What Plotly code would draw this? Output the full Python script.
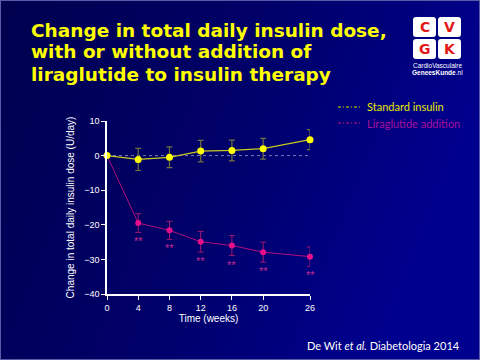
import base64
import plotly.graph_objects as go

weeks = [0, 4, 8, 12, 16, 20, 26]
tick_labels = ["0", "4", "8", "12", "16", "20", "26"]
standard = [0.0, -1.1, -0.5, 1.3, 1.5, 2.0, 4.6]
standard_err = [0.0, 3.2, 3.0, 3.1, 3.0, 3.0, 2.9]
lira = [0.0, -19.5, -21.6, -24.9, -26.0, -27.9, -29.2]
lira_err = [0.0, 2.7, 2.6, 3.0, 2.9, 2.9, 2.8]
signif = ["", "**", "**", "**", "**", "**", "**"]

W, H = 480, 360
ML, MR, MT, MB = 107, 170, 121, 66
PW, PH = W - ML - MR, H - MT - MB


def px(x):
    return (x - ML) / PW


def py(y):
    return (H - MB - y) / PH


svg = f'''<svg xmlns="http://www.w3.org/2000/svg" width="{W}" height="{H}">
<defs><linearGradient id="g" x1="0" y1="0" x2="1" y2="0.3">
<stop offset="0" stop-color="#00004e"/><stop offset="0.55" stop-color="#00006a"/>
<stop offset="1" stop-color="#00008e"/></linearGradient></defs>
<rect width="{W}" height="{H}" fill="url(#g)"/>
<rect x="0.5" y="0.5" width="{W-1}" height="{H-1}" fill="none" stroke="#5a5aa8" stroke-width="1"/>
</svg>'''
bg_src = "data:image/svg+xml;base64," + base64.b64encode(svg.encode()).decode()

fig = go.Figure()

# zero reference line
fig.add_trace(go.Scatter(x=[weeks[0], weeks[-1]], y=[0, 0], mode="lines",
                         line=dict(color="#7a7ab0", width=1, dash="dot"),
                         showlegend=False, hoverinfo="skip", cliponaxis=False))

fig.add_trace(go.Scatter(
    x=weeks, y=lira, mode="lines+markers", name="Liraglutide addition",
    line=dict(color="#b0107a", width=1),
    marker=dict(color="#e8108a", size=6),
    error_y=dict(type="data", array=lira_err, color="#a01870", thickness=1, width=3),
    showlegend=False, cliponaxis=False))

fig.add_trace(go.Scatter(
    x=weeks, y=standard, mode="lines+markers", name="Standard insulin",
    line=dict(color="#c8c820", width=1.3),
    marker=dict(color="#ffff00", size=7),
    error_y=dict(type="data", array=standard_err, color="#707040", thickness=1.2, width=3),
    showlegend=False, cliponaxis=False))

annotations = []
shapes = []
for wk, v, e, s in zip(weeks, lira, lira_err, signif):
    if s:
        annotations.append(dict(x=wk, y=v - e, xref="x", yref="y", text=s, showarrow=False,
                                yanchor="middle", yshift=-9,
                                font=dict(color="#c42a94", size=11, family="Liberation Sans")))

title_lines = ["Change in total daily insulin dose,",
               "with or without addition of",
               "liraglutide to insulin therapy"]
for i, t in enumerate(title_lines):
    annotations.append(dict(x=px(29), y=py(30 + 22 * i),
                            xref="paper", yref="paper", xanchor="left", yanchor="middle",
                            text=f"<b>{t}</b>", showarrow=False,
                            font=dict(color="#ffff00", size=18.5, family="DejaVu Sans")))

annotations.append(dict(x=px(462), y=py(345), xref="paper", yref="paper",
                        xanchor="right", yanchor="middle", showarrow=False,
                        text="De Wit <i>et al.</i> Diabetologia 2014",
                        font=dict(color="white", size=11, family="Lato")))

# manual legend
legend_items = [("Standard insulin", "#e0e000", "#e8e800", 107),
                ("Liraglutide addition", "#d0108a", "#a8109c", 123)]
for label, lcol, tcol, yy in legend_items:
    shapes.append(dict(type="line", xref="paper", yref="paper", x0=px(338), x1=px(362),
                       y0=py(yy), y1=py(yy), line=dict(color=lcol, width=1, dash="3px,2px,1px,2px")))
    annotations.append(dict(x=px(365), y=py(yy), xref="paper", yref="paper", xanchor="left",
                            yanchor="middle", text=label, showarrow=False,
                            font=dict(color=tcol, size=11, family="Lato")))


# logo
def rounded(x0, y0, x1, y1, r):
    X0, X1 = px(x0), px(x1)
    Y0, Y1 = py(y1), py(y0)
    rx, ry = r / PW, r / PH
    return (f"M {X0+rx},{Y0} L {X1-rx},{Y0} Q {X1},{Y0} {X1},{Y0+ry} "
            f"L {X1},{Y1-ry} Q {X1},{Y1} {X1-rx},{Y1} L {X0+rx},{Y1} "
            f"Q {X0},{Y1} {X0},{Y1-ry} L {X0},{Y0+ry} Q {X0},{Y0} {X0+rx},{Y0} Z")


boxes = [(413, 17, 436, 37, "C"), (438, 17, 461, 37, "V"),
         (413, 39, 436, 59, "G"), (438, 39, 461, 59, "K")]
for x0, y0, x1, y1, letter in boxes:
    shapes.append(dict(type="path", xref="paper", yref="paper", path=rounded(x0, y0, x1, y1, 3),
                       fillcolor="white", line=dict(width=0), layer="above"))
    annotations.append(dict(x=px((x0 + x1) / 2), y=py((y0 + y1) / 2), xref="paper", yref="paper",
                            xanchor="center", yanchor="middle",
                            text=f"<b>{letter}</b>", showarrow=False,
                            font=dict(color="#e01818", size=14, family="DejaVu Sans")))
annotations.append(dict(x=px(437), y=py(65), xref="paper", yref="paper", showarrow=False,
                        xanchor="center", yanchor="middle",
                        text="CardioVasculaire", font=dict(color="white", size=6.5, family="Liberation Sans")))
annotations.append(dict(x=px(437), y=py(72), xref="paper", yref="paper", showarrow=False,
                        xanchor="center", yanchor="middle",
                        text="<b>GeneesKunde</b>.nl", font=dict(color="white", size=6.5, family="Liberation Sans")))

fig.update_layout(
    width=W, height=H,
    margin=dict(l=ML, r=MR, t=MT, b=MB),
    paper_bgcolor="#000066", plot_bgcolor="rgba(0,0,0,0)",
    images=[dict(source=bg_src, xref="paper", yref="paper", x=-ML / PW, y=1 + MT / PH,
                 sizex=W / PW, sizey=H / PH, sizing="stretch", layer="below",
                 xanchor="left", yanchor="top")],
    showlegend=False,
    annotations=annotations, shapes=shapes,
    xaxis=dict(range=[0, 26], tickvals=weeks, ticktext=tick_labels, showgrid=False, zeroline=False,
               automargin=False,
               showline=True, linecolor="white", linewidth=1.5, ticks="outside", ticklen=4,
               tickcolor="white", tickfont=dict(color="white", size=9, family="Liberation Sans"),
               title=dict(text="Time (weeks)", font=dict(color="white", size=10, family="Liberation Sans"),
                          standoff=3)),
    yaxis=dict(range=[-40, 10], tickvals=[-40, -30, -20, -10, 0, 10], showgrid=False, zeroline=False,
               automargin=False,
               showline=True, linecolor="white", linewidth=1.5, ticks="outside", ticklen=4,
               tickcolor="white", tickfont=dict(color="white", size=9, family="Liberation Sans"),
               title=dict(text="Change in total daily insulin dose (U/day)",
                          font=dict(color="white", size=10, family="Liberation Sans"), standoff=8)),
)

fig.write_html("out.html", config={"displayModeBar": False},
               post_script="document.body.style.margin='0';document.body.style.overflow='hidden';")
